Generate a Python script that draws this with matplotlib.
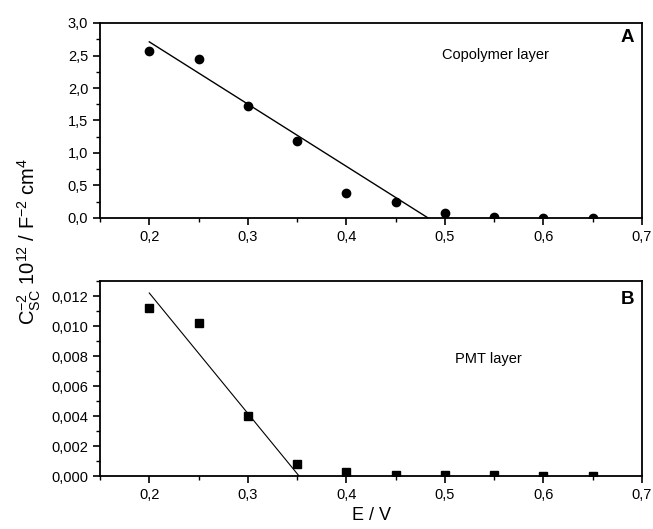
import matplotlib
matplotlib.use("Agg")
import matplotlib.pyplot as plt
from matplotlib.ticker import MultipleLocator, FuncFormatter

plt.rcParams['font.family'] = ['Liberation Sans', 'DejaVu Sans']
plt.rcParams['mathtext.fontset'] = 'custom'
plt.rcParams['mathtext.rm'] = 'Liberation Sans'
plt.rcParams['mathtext.it'] = 'Liberation Sans'
plt.rcParams['axes.unicode_minus'] = False

# data
E = [0.20, 0.25, 0.30, 0.35, 0.40, 0.45, 0.50, 0.55, 0.60, 0.65]
cop = [2.57, 2.44, 1.73, 1.18, 0.38, 0.25, 0.07, 0.01, 0.005, 0.005]
pmt = [0.0112, 0.0102, 0.0040, 0.0008, 0.0003, 0.0001, 0.0001, 0.00005, 0.00003, 0.00003]

cop_fit_x = [0.20, 0.483]
cop_fit_y = [2.71, 0.0]
pmt_fit_x = [0.20, 0.352]
pmt_fit_y = [0.0122, 0.0]

fig = plt.figure(figsize=(6.53, 5.29), dpi=100)
ax1 = fig.add_axes([100/653, 1-218/529, 542/653, 195/529])
ax2 = fig.add_axes([100/653, 1-476/529, 542/653, 195/529])

def comma(dec):
    return FuncFormatter(lambda v, p: ("%.*f" % (dec, v)).replace('.', ','))

ax1.plot(cop_fit_x, cop_fit_y, color='black', lw=1)
ax1.plot(E, cop, 'o', color='black', ms=6)
ax1.set_ylim(0, 3.0)
ax1.yaxis.set_major_locator(MultipleLocator(0.5))
ax1.yaxis.set_minor_locator(MultipleLocator(0.25))
ax1.yaxis.set_major_formatter(comma(1))
ax1.text(0.685, 2.78, 'A', fontsize=13.5, fontweight='bold', ha='center', va='center')
ax1.text(0.551, 2.5, 'Copolymer layer', fontsize=10.5, ha='center', va='center')

ax2.plot(pmt_fit_x, pmt_fit_y, color='black', lw=0.8)
ax2.plot(E, pmt, 's', color='black', ms=5.5)
ax2.set_ylim(0, 0.013)
ax2.yaxis.set_major_locator(MultipleLocator(0.002))
ax2.yaxis.set_minor_locator(MultipleLocator(0.001))
ax2.yaxis.set_major_formatter(comma(3))
ax2.text(0.685, 0.0118, 'B', fontsize=13.5, fontweight='bold', ha='center', va='center')
ax2.text(0.544, 0.0078, 'PMT layer', fontsize=10.5, ha='center', va='center')
ax2.set_xlabel('E / V', fontsize=13, labelpad=4)

for ax in (ax1, ax2):
    ax.set_xlim(0.15, 0.7)
    ax.xaxis.set_major_locator(MultipleLocator(0.1))
    ax.xaxis.set_minor_locator(MultipleLocator(0.05))
    ax.xaxis.set_major_formatter(comma(1))
    for s in ax.spines.values():
        s.set_linewidth(1.3)
    ax.tick_params(which='major', direction='out', length=5, width=1.2, labelsize=10.5)
    ax.tick_params(which='minor', direction='out', length=3, width=1.0)

fig.text(0.045, 0.544, r'C$_{SC}^{-2}$ 10$^{12}$ / F$^{-2}$ cm$^{4}$', rotation=90,
         fontsize=14.5, ha='center', va='center')

fig.savefig('out.png', dpi=100)
